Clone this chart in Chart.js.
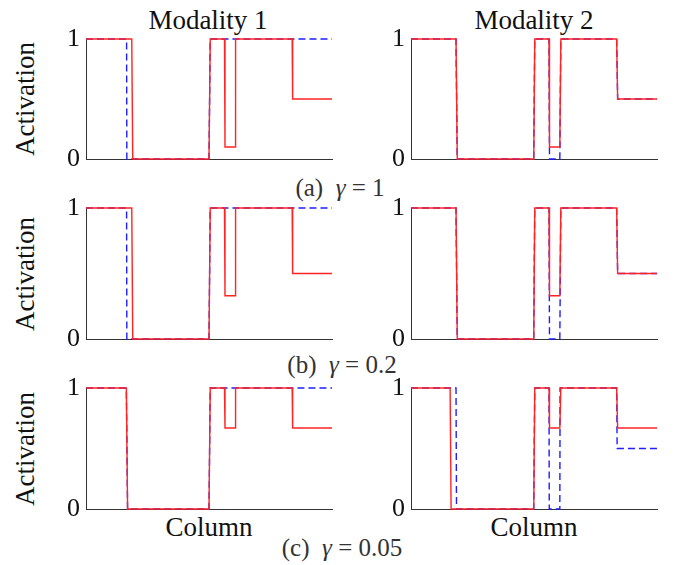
<!DOCTYPE html>
<html>
<head>
<meta charset="utf-8">
<script src="https://cdn.jsdelivr.net/npm/chart.js@4"></script>
<style>
body { margin: 0; background: #fff; width: 681px; height: 565px; position: relative; overflow: hidden; font-family: "Liberation Serif", serif; }
canvas { position: absolute; }
.t { position: absolute; transform: translate(-50%, -50%); white-space: nowrap; font-size: 27px; color: #111; }
.cap { color: #333; font-size: 25px; }
.rot { transform: translate(-50%, -50%) rotate(-90deg); }
</style>
</head>
<body>
<div class="t" style="left:208px;top:20px;">Modality 1</div>
<div class="t" style="left:534px;top:20px;">Modality 2</div>

<div class="t rot" style="left:25px;top:99px;">Activation</div>
<div class="t rot" style="left:25px;top:274px;">Activation</div>
<div class="t rot" style="left:25px;top:449px;">Activation</div>

<div class="t" style="left:209px;top:527px;">Column</div>
<div class="t" style="left:534px;top:527px;">Column</div>

<div class="t cap" style="left:340px;top:188px;">(a)&nbsp; <i>γ</i> = 1</div>
<div class="t cap" style="left:342px;top:365px;">(b)&nbsp; <i>γ</i> = 0.2</div>
<div class="t cap" style="left:342px;top:548px;">(c)&nbsp; <i>γ</i> = 0.05</div>

<canvas id="a1"></canvas>
<canvas id="a2"></canvas>
<canvas id="b1"></canvas>
<canvas id="b2"></canvas>
<canvas id="c1"></canvas>
<canvas id="c2"></canvas>

<script>
// x = column (0-100), y = activation
// (a) gamma = 1
const a1RedX  = [0, 18.6, 19.0, 50.0, 50.5, 56.3, 56.5, 60.6, 60.8, 83.8, 84.0, 100];
const a1RedY  = [1, 1, 0, 0, 1, 1, 0.1, 0.1, 1, 1, 0.5, 0.5];
const a1BlueX = [0, 16.5, 16.6, 50.0, 50.5, 100];
const a1BlueY = [1, 1, 0, 0, 1, 1];
const a2RedX  = [0, 18.3, 18.8, 49.9, 50.3, 56.1, 56.3, 60.5, 60.9, 83.6, 84.0, 100];
const a2RedY  = [1, 1, 0, 0, 1, 1, 0.1, 0.1, 1, 1, 0.5, 0.5];
const a2BlueX = [0, 18.3, 18.8, 49.9, 50.3, 56.1, 56.3, 60.5, 60.9, 83.6, 84.0, 100];
const a2BlueY = [1, 1, 0, 0, 1, 1, 0, 0, 1, 1, 0.5, 0.5];

// (b) gamma = 0.2
const b1RedX  = [0, 18.6, 19.0, 50.0, 50.5, 56.3, 56.5, 60.6, 60.8, 83.8, 84.0, 100];
const b1RedY  = [1, 1, 0, 0, 1, 1, 0.33, 0.33, 1, 1, 0.5, 0.5];
const b1BlueX = [0, 16.5, 16.6, 50.0, 50.5, 100];
const b1BlueY = [1, 1, 0, 0, 1, 1];
const b2RedX  = [0, 18.3, 18.8, 49.9, 50.3, 56.1, 56.3, 60.5, 60.9, 83.6, 84.0, 100];
const b2RedY  = [1, 1, 0, 0, 1, 1, 0.33, 0.33, 1, 1, 0.5, 0.5];
const b2BlueX = [0, 18.3, 18.8, 49.9, 50.3, 56.1, 56.3, 60.5, 60.9, 83.6, 84.0, 100];
const b2BlueY = [1, 1, 0, 0, 1, 1, 0, 0, 1, 1, 0.5, 0.5];

// (c) gamma = 0.05
const c1RedX  = [0, 16.4, 16.9, 50.0, 50.5, 56.3, 56.5, 60.6, 60.8, 83.8, 84.0, 100];
const c1RedY  = [1, 1, 0, 0, 1, 1, 0.67, 0.67, 1, 1, 0.67, 0.67];
const c1BlueX = [0, 16.4, 16.9, 50.0, 50.5, 100];
const c1BlueY = [1, 1, 0, 0, 1, 1];
const c2RedX  = [0, 15.9, 16.3, 49.9, 50.3, 56.1, 56.3, 60.5, 60.9, 83.6, 84.0, 100];
const c2RedY  = [1, 1, 0, 0, 1, 1, 0.67, 0.67, 1, 1, 0.67, 0.67];
const c2BlueX = [0, 18.3, 18.5, 49.9, 50.3, 56.1, 56.2, 60.5, 60.6, 83.6, 83.8, 100];
const c2BlueY = [1, 1, 0, 0, 1, 1, 0, 0, 1, 1, 0.5, 0.5];

const yTicks = [0, 1];

const pts = (xs, ys) => xs.map((x, i) => ({ x: x, y: ys[i] }));

function panel(id, left, top, w, h, redX, redY, blueX, blueY) {
    const padL = 36, padT = 16, padB = 16, padR = 4;
    const cv = document.getElementById(id);
    cv.width = w + padL + padR;
    cv.height = h + padT + padB;
    cv.style.left = (left - padL) + 'px';
    cv.style.top = (top - padT) + 'px';

    new Chart(cv.getContext('2d'), {
        type: 'line',
        data: {
            datasets: [{
                data: pts(redX, redY),
                borderColor: 'rgb(255, 35, 35)',
                borderWidth: 1.4,
                pointRadius: 0,
                tension: 0,
                clip: false
            }, {
                data: pts(blueX, blueY),
                borderColor: 'rgb(30, 30, 255)',
                borderWidth: 1.4,
                borderDash: [7, 4],
                pointRadius: 0,
                tension: 0,
                clip: false
            }]
        },
        options: {
            responsive: false,
            animation: false,
            layout: { padding: { top: padT, bottom: padB, right: padR, left: 0 } },
            plugins: { legend: { display: false }, tooltip: { enabled: false } },
            scales: {
                x: {
                    type: 'linear',
                    min: 0,
                    max: 100,
                    grid: { display: false },
                    border: { display: true, color: '#333', width: 1 },
                    ticks: { display: false },
                    afterFit: s => { s.height = 0; s.paddingLeft = 0; s.paddingRight = 0; }
                },
                y: {
                    min: 0,
                    max: 1,
                    afterBuildTicks: s => { s.ticks = yTicks.map(v => ({ value: v })); },
                    grid: { display: false, drawTicks: false },
                    border: { display: true, color: '#333', width: 1 },
                    ticks: {
                        color: '#111',
                        padding: 6,
                        font: { family: 'Liberation Serif', size: 26 }
                    },
                    afterFit: s => { s.width = padL; s.paddingTop = 0; s.paddingBottom = 0; }
                }
            }
        }
    });
}

panel('a1', 86, 39, 246, 120, a1RedX, a1RedY, a1BlueX, a1BlueY);
panel('a2', 411, 39, 246, 120, a2RedX, a2RedY, a2BlueX, a2BlueY);
panel('b1', 86, 208, 246, 131, b1RedX, b1RedY, b1BlueX, b1BlueY);
panel('b2', 411, 208, 246, 131, b2RedX, b2RedY, b2BlueX, b2BlueY);
panel('c1', 86, 388, 246, 121, c1RedX, c1RedY, c1BlueX, c1BlueY);
panel('c2', 411, 388, 246, 121, c2RedX, c2RedY, c2BlueX, c2BlueY);
</script>
</body>
</html>
